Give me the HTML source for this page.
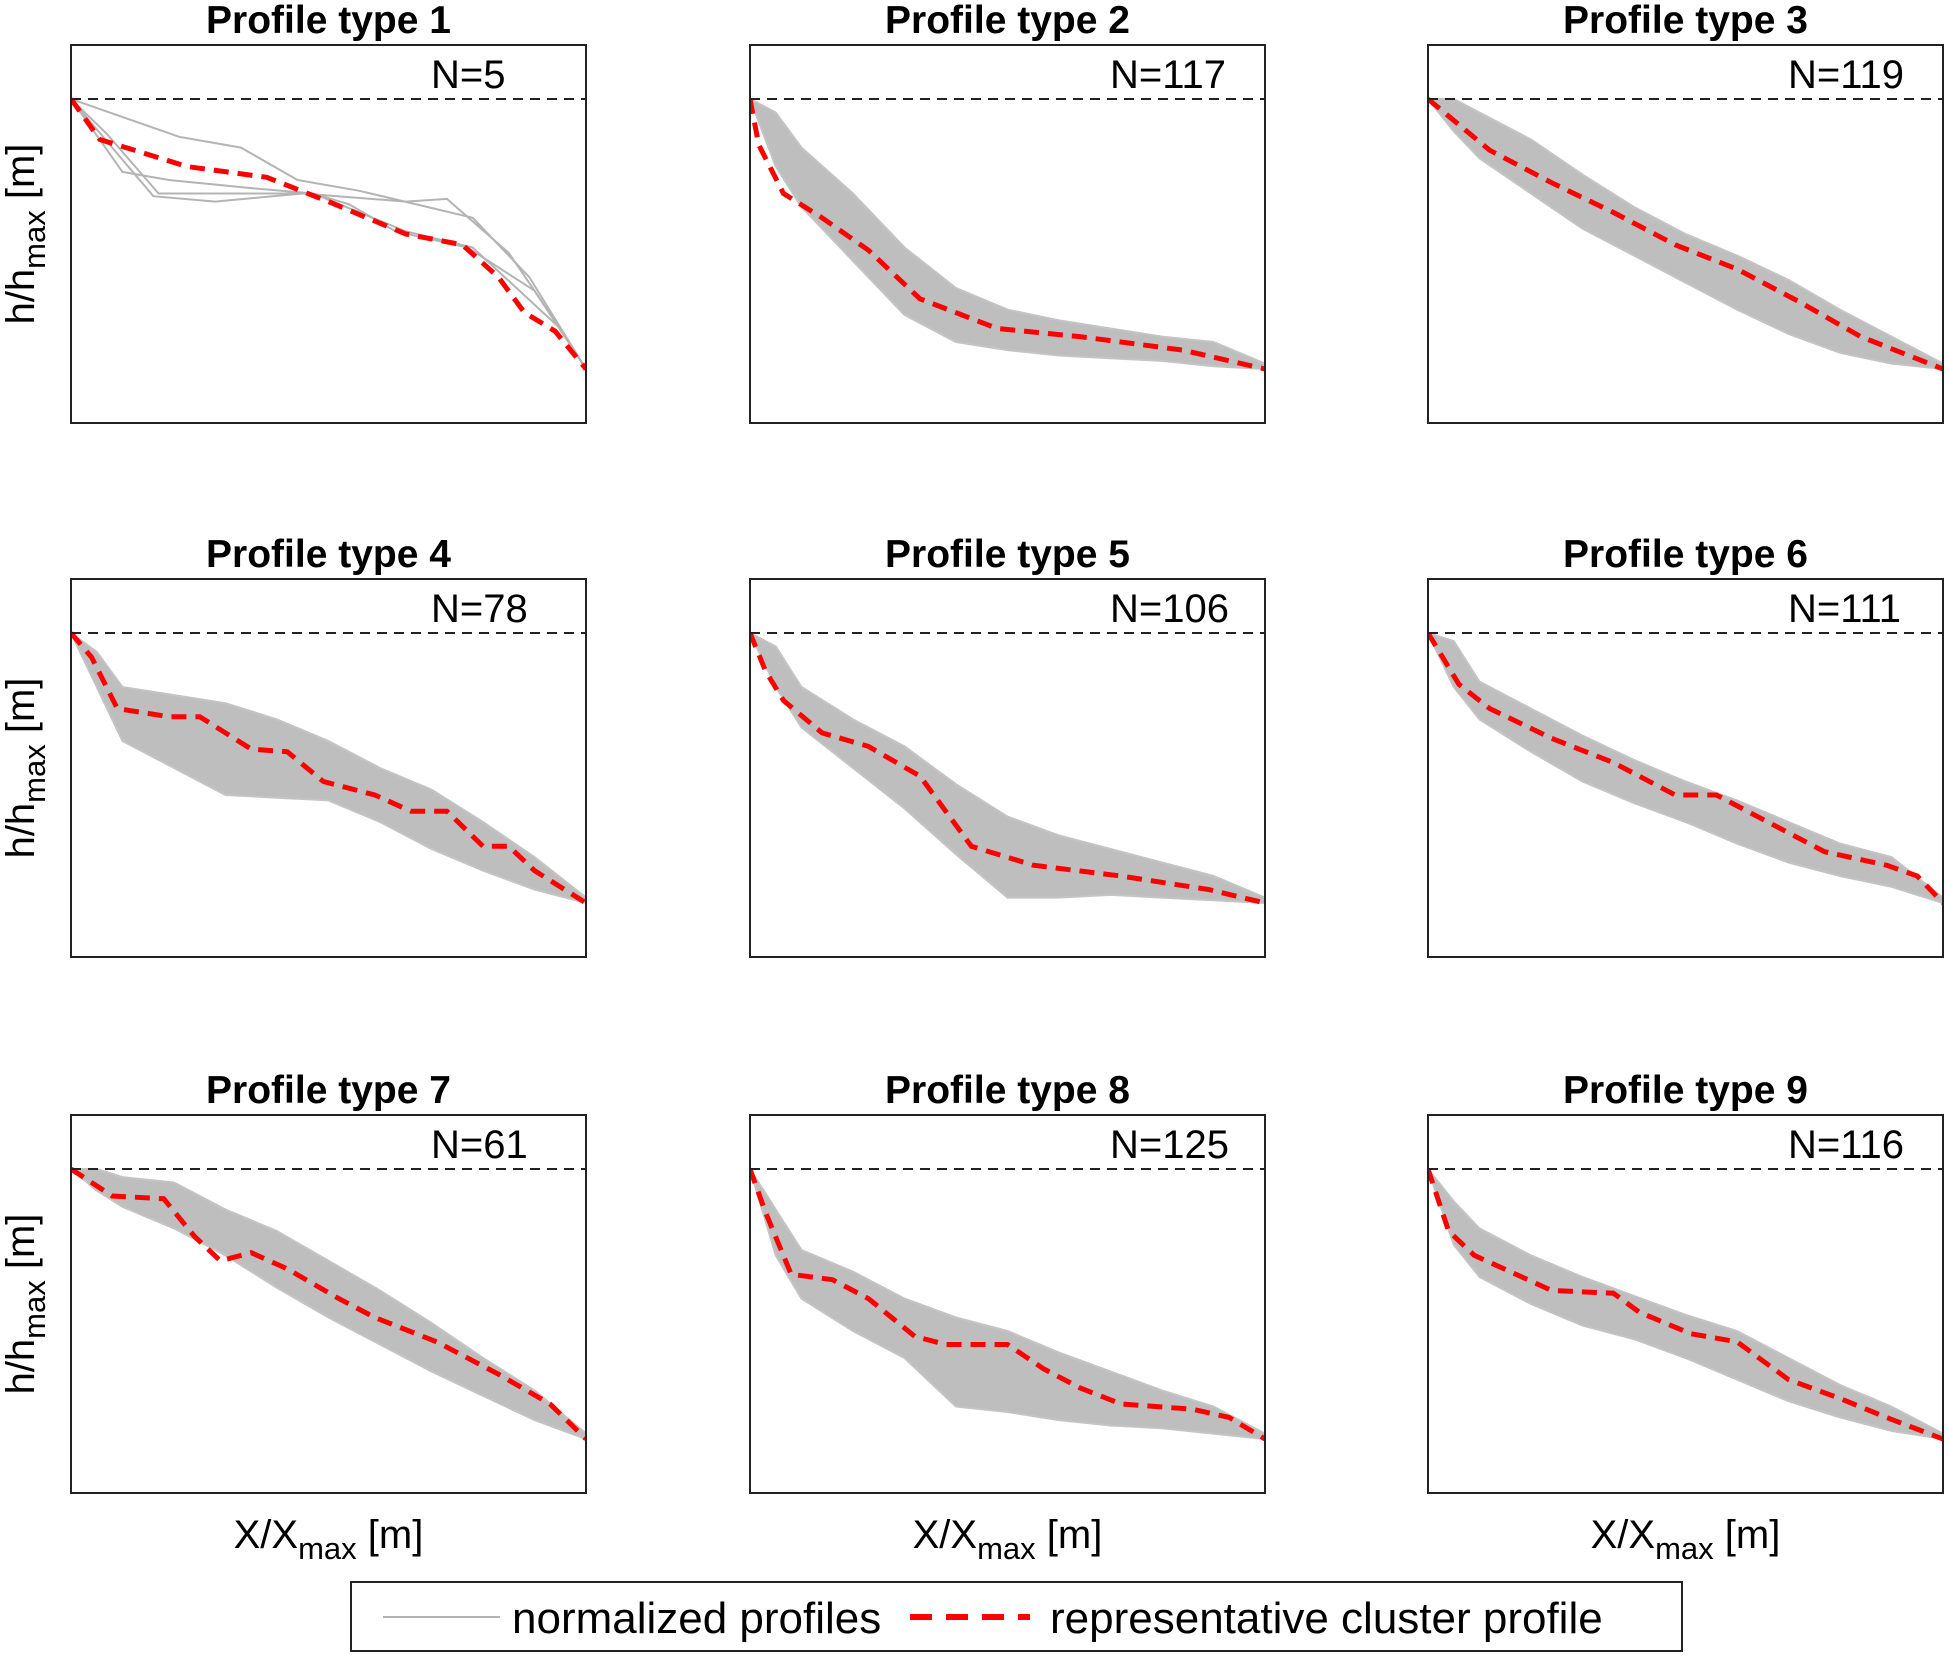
<!DOCTYPE html>
<html><head><meta charset="utf-8"><style>
html,body{margin:0;padding:0;background:#fff}
svg{display:block}
text{font-family:"Liberation Sans",Arial,sans-serif}
</style></head><body>
<svg id="chart" width="1949" height="1656" viewBox="0 0 1949 1656" xmlns="http://www.w3.org/2000/svg"></svg>
<script>
const titles = ["Profile type 1","Profile type 2","Profile type 3","Profile type 4","Profile type 5","Profile type 6","Profile type 7","Profile type 8","Profile type 9"];
const counts = ["N=5","N=117","N=119","N=78","N=106","N=111","N=61","N=125","N=116"];
const envX = [0,.05,.1,.2,.3,.4,.5,.6,.7,.8,.9,1];
const envUpper = [
 null,
 [1,.95,.82,.65,.45,.3,.22,.18,.15,.12,.1,.02],
 [1,1,.95,.85,.72,.6,.5,.42,.33,.22,.12,.02],
 [1,.93,.8,.77,.74,.68,.6,.5,.42,.3,.17,.02],
 [1,.95,.8,.68,.58,.44,.32,.25,.2,.15,.1,.02],
 [1,.97,.82,.72,.62,.53,.45,.38,.3,.22,.17,.02],
 [1,1,.97,.95,.85,.77,.66,.55,.43,.3,.18,.02],
 [1,.85,.7,.62,.52,.45,.4,.32,.25,.18,.12,.02],
 [1,.88,.78,.68,.6,.53,.46,.4,.3,.2,.12,.02]
];
const envLower = [
 null,
 [1,.75,.6,.4,.2,.1,.07,.05,.04,.03,.01,0],
 [1,.88,.78,.65,.52,.42,.32,.22,.13,.06,.02,0],
 [1,.8,.6,.5,.4,.39,.38,.3,.2,.12,.05,0],
 [1,.8,.65,.5,.35,.18,.02,.02,.03,.02,.01,0],
 [1,.8,.68,.56,.45,.37,.3,.22,.15,.1,.06,0],
 [1,.92,.86,.78,.68,.56,.45,.35,.25,.16,.07,0],
 [1,.68,.52,.4,.3,.12,.1,.07,.05,.04,.02,0],
 [1,.72,.6,.5,.42,.37,.3,.22,.14,.08,.03,0]
];
const type1GrayX = [
 [0,.21,.33,.44,.56,.78,.89,1],
 [0,.1,.19,.35,.47,.65,.78,.95,1],
 [0,.16,.28,.45,.65,.73,.85,.95,1],
 [0,.07,.17,.47,.54,.63,.77,.9,1]
];
const type1GrayY = [
 [1,.86,.82,.70,.66,.56,.34,0],
 [1,.73,.70,.67,.65,.51,.45,.15,0],
 [1,.64,.62,.65,.62,.63,.43,.15,0],
 [1,.87,.65,.65,.61,.51,.45,.29,0]
];
const repX = [
 [0,.056,.225,.38,.5,.65,.76,.83,.88,.94,1],
 [0,.017,.065,.14,.23,.33,.48,.64,.84,1],
 [0,.12,.24,.36,.48,.6,.72,.84,1],
 [0,.04,.09,.19,.25,.35,.42,.49,.59,.66,.73,.8,.85,.9,1],
 [0,.03,.065,.14,.23,.33,.43,.55,.72,.89,1],
 [0,.06,.12,.24,.36,.48,.56,.65,.77,.89,.95,1],
 [0,.08,.18,.24,.29,.35,.42,.52,.59,.71,.83,.93,1],
 [0,.03,.08,.16,.23,.32,.38,.5,.57,.64,.72,.86,.93,1],
 [0,.04,.09,.24,.36,.41,.51,.6,.7,.8,.89,1]
];
const repY = [
 [1,.85,.75,.71,.62,.5,.46,.34,.21,.14,0],
 [1,.83,.65,.56,.44,.26,.15,.12,.07,0],
 [1,.81,.69,.58,.46,.37,.25,.12,0],
 [1,.91,.72,.69,.69,.57,.56,.45,.40,.34,.34,.21,.21,.12,0],
 [1,.86,.75,.63,.58,.47,.21,.14,.1,.05,0],
 [1,.81,.72,.61,.52,.4,.4,.31,.19,.14,.1,0],
 [1,.9,.89,.75,.66,.69,.63,.52,.45,.36,.24,.13,0],
 [1,.84,.61,.59,.52,.38,.35,.35,.26,.19,.13,.11,.08,0],
 [1,.77,.68,.55,.54,.47,.39,.36,.22,.15,.08,0]
];
const yMin = -0.2, yMax = 1.2;

const svg = document.getElementById('chart');
const NS = 'http://www.w3.org/2000/svg';
function mk(tag, attrs, parent){const e=document.createElementNS(NS,tag);for(const k in attrs)e.setAttribute(k,attrs[k]);(parent||svg).appendChild(e);return e;}
const colX=[71,750,1428], rowY=[45,579,1115], W=515, H=378;

for(let i=0;i<9;i++){
  const x0=colX[i%3], y0=rowY[Math.floor(i/3)];
  const sx=v=>x0+v*W, sy=v=>y0+(yMax-v)/(yMax-yMin)*H;
  const g=mk('g',{});
  
  
  const t=mk('text',{x:x0+W/2,y:y0-12,'text-anchor':'middle','font-size':39,'font-weight':'bold'},g);
  t.textContent=titles[i];
  
  
  const clip=mk('clipPath',{id:'c'+i},g); mk('rect',{x:x0,y:y0,width:W,height:H},clip);
  const plot=mk('g',{'clip-path':'url(#c'+i+')'},g);
  if(i===0){
    for(let k=0;k<type1GrayX.length;k++){
      const p=mk('polyline',{points:type1GrayX[k].map((v,j)=>sx(v)+','+sy(type1GrayY[k][j])).join(' '),fill:'none',stroke:'#b4b4b4','stroke-width':2},plot);
      
      
    }
  } else {
    const up=envX.map((v,j)=>sx(v)+','+sy(envUpper[i][j]));
    const lo=envX.map((v,j)=>sx(v)+','+sy(envLower[i][j])).reverse();
    const poly=mk('polygon',{points:up.concat(lo).join(' '),fill:'#bebebe',stroke:'#c4c4c4','stroke-width':2},plot);
    
    
  }
  const ref=mk('line',{x1:x0,x2:x0+W,y1:sy(1),y2:sy(1),stroke:'#222','stroke-width':2,'stroke-dasharray':'10,7'},g);
  
  
  const rp=mk('polyline',{points:repX[i].map((v,j)=>sx(v)+','+sy(repY[i][j])).join(' '),fill:'none',stroke:'#ff0000','stroke-width':5,'stroke-dasharray':'15,9'},plot);
  
  
  const b=mk('rect',{x:x0,y:y0,width:W,height:H,fill:'none',stroke:'#222','stroke-width':2},g);
  
  
  const n=mk('text',{x:x0+360,y:y0+43,'text-anchor':'start','font-size':40},g);
  n.textContent=counts[i];
  
  
  if(i%3===0){
    const yl=mk('text',{transform:'translate(34,'+(y0+H/2)+') rotate(-90)','text-anchor':'middle','font-size':40},g);
    yl.innerHTML='h/h<tspan font-size="31" dy="11">max</tspan><tspan dy="-11"> [m]</tspan>';
    
    
  }
  if(i>=6){
    const xl=mk('text',{x:x0+W/2,y:1548,'text-anchor':'middle','font-size':40},g);
    xl.innerHTML='X/X<tspan font-size="31" dy="11">max</tspan><tspan dy="-11"> [m]</tspan>';
    
    
  }
}
const lg=mk('g',{});


mk('rect',{x:351,y:1582,width:1331,height:69,fill:'#fff',stroke:'#222','stroke-width':2},lg);
mk('line',{x1:383,x2:500,y1:1617,y2:1617,stroke:'#b4b4b4','stroke-width':2},lg);
const l1=mk('text',{x:512,y:1633,'font-size':44},lg); l1.textContent='normalized profiles';


mk('line',{x1:910,x2:1030,y1:1617,y2:1617,stroke:'#ff0000','stroke-width':6,'stroke-dasharray':'22,14'},lg);
const l2=mk('text',{x:1050,y:1633,'font-size':44},lg); l2.textContent='representative cluster profile';


</script>
</body></html>
